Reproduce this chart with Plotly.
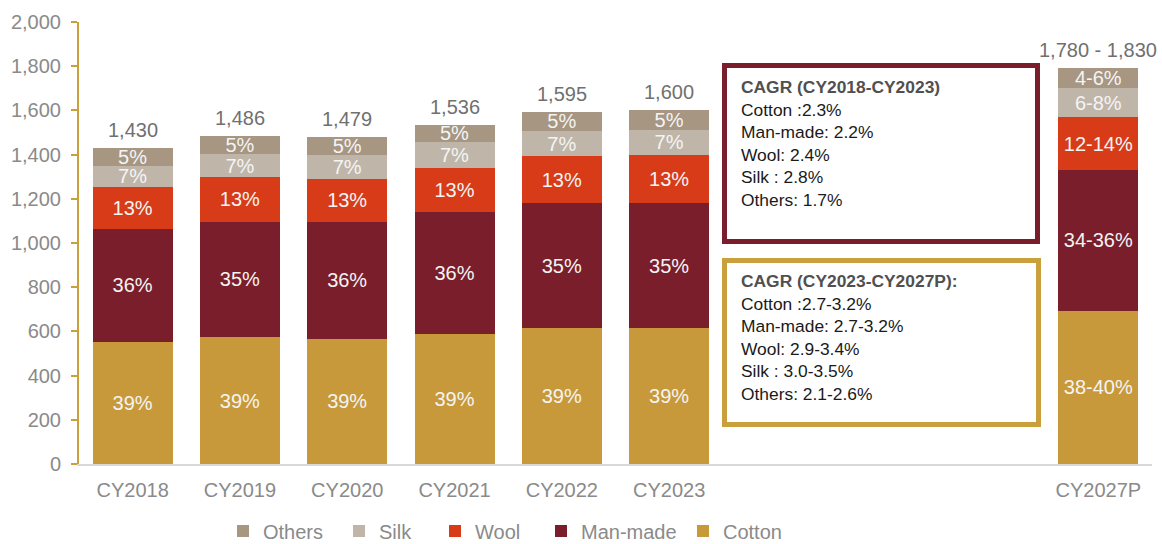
import plotly.graph_objects as go

# ---------------- data ----------------
categories = ["CY2018", "CY2019", "CY2020", "CY2021", "CY2022", "CY2023", "CY2027P"]
axis_categories = ["CY2018", "CY2019", "CY2020", "CY2021", "CY2022", "CY2023",
                   " ", "  ", "   ", "CY2027P"]

cotton = [553, 573, 567, 588, 615, 615, 694]
man_made = [510, 524, 530, 552, 566, 566, 636]
wool = [189, 200, 194, 201, 211, 216, 239]
silk = [98, 106, 107, 115, 116, 116, 132]
others = [80, 83, 81, 80, 87, 87, 89]

cotton_lbl = ["39%", "39%", "39%", "39%", "39%", "39%", "38-40%"]
man_made_lbl = ["36%", "35%", "36%", "36%", "35%", "35%", "34-36%"]
wool_lbl = ["13%", "13%", "13%", "13%", "13%", "13%", "12-14%"]
silk_lbl = ["7%", "7%", "7%", "7%", "7%", "7%", "6-8%"]
others_lbl = ["5%", "5%", "5%", "5%", "5%", "5%", "4-6%"]

total_lbl = ["1,430", "1,486", "1,479", "1,536", "1,595", "1,600", "1,780 - 1,830"]

cagr_hist_title = "CAGR (CY2018-CY2023)"
cagr_hist = ["Cotton :2.3%", "Man-made: 2.2%", "Wool: 2.4%", "Silk : 2.8%", "Others: 1.7%"]
cagr_proj_title = "CAGR (CY2023-CY2027P):"
cagr_proj = ["Cotton :2.7-3.2%", "Man-made: 2.7-3.2%", "Wool: 2.9-3.4%",
             "Silk : 3.0-3.5%", "Others: 2.1-2.6%"]

# ---------------- styles ----------------
FONT = "Liberation Sans, Arial, sans-serif"
C_COTTON = "#C8993A"
C_MANMADE = "#7A1E2B"
C_WOOL = "#D73B17"
C_SILK = "#BFB6A9"
C_OTHERS = "#A69682"
GOLD = "#C9A03C"
GREY = "#8A8A8A"

W, H = 1162, 544
ML, MR, MT, MB = 79, 10, 22, 80
PW = W - ML - MR
PH = H - MT - MB


def px_x(px):
    return (px - ML) / PW


def px_y(py):
    return (H - MB - py) / PH


# (name, values, labels, colour, legend id, legend text x in px)
series = [
    ("Cotton", cotton, cotton_lbl, C_COTTON, "legend5", 723),
    ("Man-made", man_made, man_made_lbl, C_MANMADE, "legend4", 581),
    ("Wool", wool, wool_lbl, C_WOOL, "legend3", 475),
    ("Silk", silk, silk_lbl, C_SILK, "legend2", 379),
    ("Others", others, others_lbl, C_OTHERS, "legend", 263),
]

fig = go.Figure()
legend_layout = {}
for name, vals, lbls, col, leg, tx in series:
    fig.add_trace(go.Bar(
        x=categories, y=vals, name=name, text=lbls, legend=leg,
        textposition="inside", insidetextanchor="middle", textangle=0,
        constraintext="none",
        textfont=dict(family=FONT, size=20, color="#F4F4F4"),
        marker=dict(color=col, line=dict(width=0)),
        hoverinfo="skip",
    ))
    legend_layout[leg] = dict(
        orientation="h", x=px_x(tx - 40), xanchor="left",
        y=px_y(531), yanchor="middle", bgcolor="rgba(0,0,0,0)",
        font=dict(family=FONT, size=20, color=GREY), itemclick=False,
    )

totals = [sum(v) for v in zip(cotton, man_made, wool, silk, others)]
for cat, tot, lbl in zip(categories, totals, total_lbl):
    fig.add_annotation(x=cat, y=tot, text=lbl, showarrow=False,
                       yanchor="bottom", yshift=5,
                       font=dict(family=FONT, size=20, color="#707070"))

# CAGR boxes
fig.add_shape(type="rect", xref="paper", yref="paper",
              x0=px_x(724.5), x1=px_x(1037.5), y0=px_y(241.5), y1=px_y(65.5),
              line=dict(color=C_MANMADE, width=5), fillcolor="white", layer="above")
fig.add_shape(type="rect", xref="paper", yref="paper",
              x0=px_x(724.5), x1=px_x(1038.5), y0=px_y(424.5), y1=px_y(260.5),
              line=dict(color=GOLD, width=5), fillcolor="white", layer="above")


def box_text(title, lines, ytop):
    txt = "<b><span style='color:#505050'>" + title + "</span></b><br>" + "<br>".join(lines)
    fig.add_annotation(xref="paper", yref="paper", x=px_x(739), y=px_y(ytop),
                       xanchor="left", yanchor="top", align="left",
                       showarrow=False, text=txt,
                       font=dict(family=FONT, size=17.4, color="#1A1A1A"))


box_text(cagr_hist_title, cagr_hist, 75)
box_text(cagr_proj_title, cagr_proj, 269)

fig.update_layout(
    barmode="stack",
    bargap=0.255,
    width=W, height=H,
    margin=dict(l=ML, r=MR, t=MT, b=MB, autoexpand=False),
    paper_bgcolor="white", plot_bgcolor="white",
    font=dict(family=FONT, size=20, color=GREY),
    showlegend=True,
    xaxis=dict(type="category", categoryorder="array", categoryarray=axis_categories,
               range=[-0.5, 9.5], showline=True, linecolor="#D9D9D9", linewidth=2,
               ticks="", showgrid=False, ticklabelstandoff=7,
               tickfont=dict(family=FONT, size=20, color=GREY)),
    yaxis=dict(range=[0, 2000], dtick=200, tickformat=",", showgrid=False,
               zeroline=False, showline=True, linecolor=GOLD, linewidth=2,
               ticks="outside", ticklen=6, tickcolor=GOLD, tickwidth=2,
               ticklabelstandoff=6,
               tickfont=dict(family=FONT, size=20, color=GREY)),
    **legend_layout,
)

fig.write_html("out.html",
               config={"displayModeBar": False},
               post_script="document.body.style.margin='0';document.body.style.overflow='hidden';")
